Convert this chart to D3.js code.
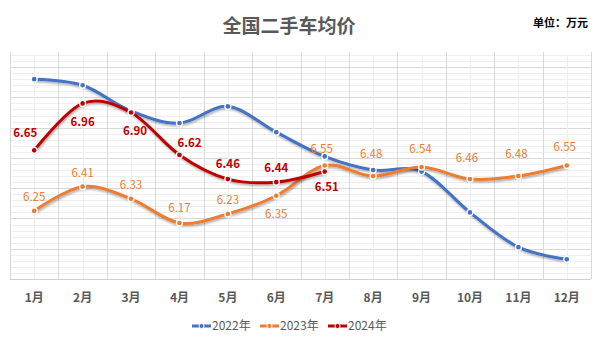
<!DOCTYPE html>
<html>
<head>
<meta charset="utf-8">
<script src="https://cdn.jsdelivr.net/npm/d3@7"></script>
<style>
  html, body { margin: 0; padding: 0; background: #ffffff; }
  svg { display: block; }
  text { font-family: "Noto Sans CJK SC", "Noto Sans", sans-serif; }
</style>
</head>
<body>
<svg id="chart" width="600" height="342"></svg>
<script>
// Monthly average used-car price (10k CNY)
const months = ["1月","2月","3月","4月","5月","6月","7月","8月","9月","10月","11月","12月"];
const series2022 = [7.12, 7.08, 6.91, 6.83, 6.94, 6.77, 6.61, 6.52, 6.51, 6.24, 6.01, 5.93];
const series2023 = [6.25, 6.41, 6.33, 6.17, 6.23, 6.35, 6.55, 6.48, 6.54, 6.46, 6.48, 6.55];
const series2024 = [6.65, 6.96, 6.90, 6.62, 6.46, 6.44, 6.51];
const seriesNames = ["2022年", "2023年", "2024年"];
const yMin = 5.8, yMax = 7.28;

// label placement per point: [dx, dy] relative to the marker
const labelOffsets2023 = [[0,-14],[0,-14],[0,-14],[0,-15],[0,-14],[0,18],[-3,-17],[-2,-22],[-1,-18],[-3,-21],[-2,-22],[-2,-19]];
const labelOffsets2024 = [[-9,-17],[0,19],[4,18],[10,-12],[0,-15],[0,-14],[2,15]];

const colors = ["#4472C4", "#ED7D31", "#C00000"];

const svg = d3.select("#chart");
const plot = { left: 10, right: 591, top: 55, bottom: 279 };

const defs = svg.append("defs");
const f = defs.append("filter").attr("id", "shadow")
  .attr("x", "-10%").attr("y", "-20%").attr("width", "120%").attr("height", "140%");
f.append("feDropShadow").attr("dx", 0.8).attr("dy", 1.6)
  .attr("stdDeviation", 1.1).attr("flood-color", "#000").attr("flood-opacity", 0.35);

const x = d3.scaleBand().domain(months).range([plot.left, plot.right]);
const y = d3.scaleLinear().domain([yMin, yMax]).range([plot.bottom, plot.top]);
const cx = m => x(m) + x.bandwidth() / 2;

// grid: minor every 0.04, major every 0.2
const grid = svg.append("g");
const minorTicks = d3.range(0, Math.round((yMax - yMin) / 0.04) + 1).map(i => +(yMin + i * 0.04).toFixed(2));
minorTicks.forEach(v => {
  const isMajor = Math.abs((v - yMin) / 0.2 - Math.round((v - yMin) / 0.2)) < 1e-6;
  grid.append("line")
    .attr("x1", plot.left).attr("x2", plot.right)
    .attr("y1", Math.round(y(v)) + 0.5).attr("y2", Math.round(y(v)) + 0.5)
    .attr("stroke", isMajor ? "#d9d9d9" : "#efefef").attr("stroke-width", 1);
});
months.forEach(m => {
  grid.append("line")
    .attr("x1", Math.round(cx(m)) + 0.5).attr("x2", Math.round(cx(m)) + 0.5)
    .attr("y1", plot.top).attr("y2", plot.bottom)
    .attr("stroke", "#efefef");
});
x.domain().concat([null]).forEach((m, i) => {
  const xx = m === null ? plot.right : x(m);
  grid.append("line")
    .attr("x1", Math.round(xx) + 0.5).attr("x2", Math.round(xx) + 0.5)
    .attr("y1", plot.top - 3).attr("y2", plot.bottom)
    .attr("stroke", "#d9d9d9");
});
grid.append("line")
  .attr("x1", plot.left).attr("x2", plot.right)
  .attr("y1", plot.bottom + 0.5).attr("y2", plot.bottom + 0.5)
  .attr("stroke", "#d0d0d0");

// x axis labels
const xAxis = d3.axisBottom(x).tickSize(0).tickPadding(14);
const gx = svg.append("g").attr("transform", `translate(0,${plot.bottom})`).call(xAxis);
gx.select(".domain").remove();
gx.selectAll("text")
  .attr("font-family", "\"Noto Sans CJK SC\", sans-serif")
  .attr("font-size", 12).attr("font-weight", "bold").attr("fill", "#595959");

// lines
const line = d3.line()
  .x((d, i) => cx(months[i]))
  .y(d => y(d))
  .curve(d3.curveCardinal.tension(0));

const allSeries = [series2022, series2023, series2024];
allSeries.forEach((s, k) => {
  const g = svg.append("g");
  g.append("path").datum(s)
    .attr("d", line)
    .attr("fill", "none")
    .attr("stroke", colors[k])
    .attr("stroke-width", 3)
    .attr("stroke-linecap", "round")
    .attr("filter", "url(#shadow)");
  g.selectAll("circle").data(s).join("circle")
    .attr("cx", (d, i) => cx(months[i]))
    .attr("cy", d => y(d))
    .attr("r", 3)
    .attr("fill", colors[k])
    .attr("stroke", "#ffffff")
    .attr("stroke-width", 1.3);
});

// value labels
function labels(s, offsets, color, weight) {
  svg.append("g").selectAll("text").data(s).join("text")
    .attr("x", (d, i) => cx(months[i]) + offsets[i][0])
    .attr("y", (d, i) => y(d) + offsets[i][1])
    .attr("dy", "0.35em")
    .attr("text-anchor", "middle")
    .attr("font-family", "\"Noto Sans\", sans-serif")
    .attr("font-size", 11.5)
    .attr("font-weight", weight)
    .attr("fill", color)
    .text(d => d.toFixed(2));
}
labels(series2023, labelOffsets2023, colors[1], "normal");
labels(series2024, labelOffsets2024, colors[2], "bold");

// title and unit
svg.append("text")
  .attr("x", 289).attr("y", 26).attr("dy", "0.35em")
  .attr("text-anchor", "middle")
  .attr("font-size", 19).attr("font-weight", "bold").attr("fill", "#595959")
  .text("全国二手车均价");
svg.append("text")
  .attr("x", 588).attr("y", 23).attr("dy", "0.35em")
  .attr("text-anchor", "end")
  .attr("font-size", 11).attr("font-weight", "bold").attr("fill", "#000000")
  .text("单位：万元");

// legend
const legendX = [192, 260, 328];
const legend = svg.append("g");
seriesNames.forEach((name, k) => {
  const lg = legend.append("g").attr("transform", `translate(${legendX[k]},326)`);
  lg.append("line").attr("x1", 0).attr("x2", 19).attr("y1", 0).attr("y2", 0)
    .attr("stroke", colors[k]).attr("stroke-width", 3);
  lg.append("circle").attr("cx", 9.5).attr("cy", 0).attr("r", 2.5)
    .attr("fill", colors[k]).attr("stroke", "#fff").attr("stroke-width", 1);
  lg.append("text").attr("x", 20).attr("y", 0).attr("dy", "0.35em")
    .attr("font-size", 12).attr("fill", "#595959").text(name);
});
</script>
</body>
</html>
